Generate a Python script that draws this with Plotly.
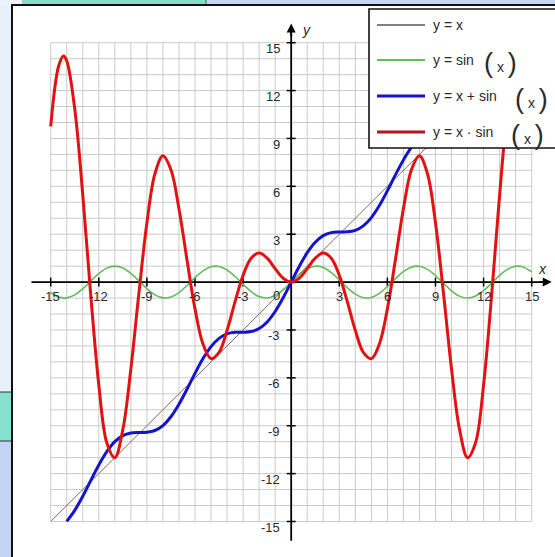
import plotly.graph_objects as go

# ---------------- data ----------------
X = [-15, -14.5, -14.2, -14, -13.5, -13, -12.5, -12, -11.5, -11, -10.5, -10, -9.5, -9,
     -8.5, -8, -7.5, -7, -6.5, -6, -5.5, -5, -4.5, -4, -3.5, -3, -2.5, -2, -1.5, -1, -0.5,
     0, 0.5, 1, 1.5, 2, 2.5, 3, 3.5, 4, 4.5, 5, 5.5, 6, 6.5, 7, 7.5, 8, 8.5, 9, 9.5,
     10, 10.5, 11, 11.5, 12, 12.5, 13, 13.5, 14, 14.2, 14.5, 15]

SIN_Y = [-0.650, -0.935, -0.998, -0.991, -0.804, -0.420, 0.066, 0.537, 0.875, 1.000, 0.880, 0.544, 0.075, -0.412,
         -0.798, -0.989, -0.938, -0.657, -0.215, 0.279, 0.706, 0.959, 0.978, 0.757, 0.351, -0.141, -0.598, -0.909, -0.997, -0.841, -0.479,
         0.0, 0.479, 0.841, 0.997, 0.909, 0.598, 0.141, -0.351, -0.757, -0.978, -0.959, -0.706, -0.279, 0.215, 0.657, 0.938, 0.989, 0.798, 0.412, -0.075,
         -0.544, -0.880, -1.000, -0.875, -0.537, -0.066, 0.420, 0.804, 0.991, 0.998, 0.935, 0.650]

X_PLUS_SIN_Y = [-15.650, -15.435, -15.198, -14.991, -14.304, -13.420, -12.434, -11.463, -10.625, -10.000, -9.620, -9.456, -9.425, -9.412,
                -9.299, -8.989, -8.438, -7.657, -6.715, -5.721, -4.794, -4.041, -3.523, -3.243, -3.149, -3.141, -3.099, -2.909, -2.497, -1.841, -0.979,
                0.0, 0.979, 1.841, 2.497, 2.909, 3.099, 3.141, 3.149, 3.243, 3.523, 4.041, 4.794, 5.721, 6.715, 7.657, 8.438, 8.989, 9.299, 9.412, 9.425,
                9.456, 9.620, 10.000, 10.625, 11.463, 12.434, 13.420, 14.304, 14.991, 15.198, 15.435, 15.650]

X_TIMES_SIN_Y = [9.755, 13.556, 14.173, 13.868, 10.851, 5.463, -0.829, -6.439, -10.068, -11.000, -9.237, -5.440, -0.714, 3.709,
                 6.787, 7.915, 7.035, 4.599, 1.398, -1.676, -3.880, -4.795, -4.399, -3.027, -1.228, 0.423, 1.496, 1.819, 1.496, 0.841, 0.240,
                 0.0, 0.240, 0.841, 1.496, 1.819, 1.496, 0.423, -1.228, -3.027, -4.399, -4.795, -3.880, -1.676, 1.398, 4.599, 7.035, 7.915, 6.787, 3.709, -0.714,
                 -5.440, -9.237, -11.000, -10.068, -6.439, -0.829, 5.463, 10.851, 13.868, 14.173, 13.556, 9.755]

IDENTITY_X = [-15, 15]
IDENTITY_Y = [-15, 15]

X_TICKS = [-15, -12, -9, -6, -3, 3, 6, 9, 12, 15]
Y_TICKS = [15, 12, 9, 6, 3, -3, -6, -9, -12, -15]
GRID = list(range(-15, 16))
LIMIT = 15

LEGEND_LABELS = ["y = x", "y = sin", "y = x + sin", "y = x \u00b7 sin"]

# ---------------- layout geometry ----------------
W, H = 555, 557
XR = [-18.162, 16.454]
YR = [-17.225, 17.675]


def pxx(p):
    return p / W


def pxy(p):
    return 1 - p / H


fig = go.Figure()

common = dict(mode="lines", hoverinfo="skip", showlegend=False)
fig.add_trace(go.Scatter(x=IDENTITY_X, y=IDENTITY_Y, line=dict(color="#7b6a60", width=1), **common))
fig.add_trace(go.Scatter(x=X, y=SIN_Y, line=dict(color="#62bd58", width=1.6, shape="spline"), **common))
bx = [x for x, y in zip(X, X_PLUS_SIN_Y) if abs(y) <= LIMIT + 0.01]
by = [y for y in X_PLUS_SIN_Y if abs(y) <= LIMIT + 0.01]
fig.add_trace(go.Scatter(x=bx, y=by, line=dict(color="#1414cc", width=3, shape="spline"), **common))
fig.add_trace(go.Scatter(x=X, y=X_TIMES_SIN_Y, line=dict(color="#e01212", width=3, shape="spline"), **common))

shapes = []
# background decoration outside the white panel
deco = [
    (0, 0, 22, 5, "#eef3fb"),
    (22, 0, 206, 5, "#86dcc8"),
    (206, 0, 555, 5, "#c9d3f3"),
    (0, 5, 12, 392, "#eaf0fa"),
    (0, 392, 12, 441, "#86e0cc"),
    (0, 441, 12, 557, "#c3d3f3"),
]
for x0, y0, x1, y1, c in deco:
    shapes.append(dict(type="rect", xref="paper", yref="paper", x0=pxx(x0), x1=pxx(x1),
                       y0=pxy(y1), y1=pxy(y0), fillcolor=c, line=dict(width=0), layer="below"))
for y in (392, 441):
    shapes.append(dict(type="line", xref="paper", yref="paper", x0=pxx(0), x1=pxx(12),
                       y0=pxy(y), y1=pxy(y), line=dict(color="#333333", width=1), layer="below"))
shapes.append(dict(type="line", xref="paper", yref="paper", x0=pxx(206), x1=pxx(206),
                   y0=pxy(0), y1=pxy(5), line=dict(color="#555555", width=1), layer="below"))
# panel border
shapes.append(dict(type="line", xref="paper", yref="paper", x0=pxx(11), x1=pxx(556),
                   y0=pxy(5), y1=pxy(5), line=dict(color="#111111", width=2), layer="below"))
shapes.append(dict(type="line", xref="paper", yref="paper", x0=pxx(12), x1=pxx(12),
                   y0=pxy(4), y1=pxy(558), line=dict(color="#111111", width=2), layer="below"))

# grid
for g in GRID:
    shapes.append(dict(type="line", xref="x", yref="y", x0=g, x1=g, y0=-LIMIT, y1=LIMIT,
                       line=dict(color="#cacaca", width=1), layer="below"))
    shapes.append(dict(type="line", xref="x", yref="y", x0=-LIMIT, x1=LIMIT, y0=g, y1=g,
                       line=dict(color="#cacaca", width=1), layer="below"))
# axes
shapes.append(dict(type="line", xref="x", yref="y", x0=-16.2, x1=16.0, y0=0, y1=0,
                   line=dict(color="#000000", width=1.8), layer="below"))
shapes.append(dict(type="line", xref="x", yref="y", x0=0, x1=0, y0=-16.2, y1=15.9,
                   line=dict(color="#000000", width=1.8), layer="below"))
for t in X_TICKS:
    shapes.append(dict(type="line", xref="x", yref="y", x0=t, x1=t, y0=-0.28, y1=0.28,
                       line=dict(color="#000000", width=1.5), layer="below"))
for t in Y_TICKS:
    shapes.append(dict(type="line", xref="x", yref="y", x0=-0.28, x1=0.28, y0=t, y1=t,
                       line=dict(color="#000000", width=1.5), layer="below"))

# legend box
shapes.append(dict(type="rect", xref="paper", yref="paper", x0=pxx(369), x1=pxx(560),
                   y0=pxy(148), y1=pxy(9), fillcolor="white", line=dict(color="#111111", width=1.6),
                   layer="above"))
LEG_Y = [25, 60, 96, 132]
LEG_COLORS = ["#5f5048", "#62bd58", "#1414cc", "#b5121e"]
LEG_WIDTHS = [1.4, 1.8, 3, 3]
for yy, c, w in zip(LEG_Y, LEG_COLORS, LEG_WIDTHS):
    shapes.append(dict(type="line", xref="paper", yref="paper", x0=pxx(377), x1=pxx(425),
                       y0=pxy(yy), y1=pxy(yy), line=dict(color=c, width=w), layer="above"))

annotations = []
TXT = dict(family="Liberation Sans, Arial, sans-serif", size=13, color="#2a2a2a")
LEG_TXT = dict(family="Liberation Sans, Arial, sans-serif", size=14, color="#2a2a2a")
for t in X_TICKS:
    annotations.append(dict(x=t, y=0, xref="x", yref="y", text=str(t), showarrow=False,
                            xanchor="center", yanchor="middle", yshift=-14, font=TXT))
annotations.append(dict(x=0, y=0, xref="x", yref="y", text="0", showarrow=False,
                        xanchor="right", yanchor="middle", xshift=-9, yshift=-13, font=TXT))
for t in Y_TICKS:
    annotations.append(dict(x=0, y=t, xref="x", yref="y", text=str(t), showarrow=False,
                            xanchor="right", yanchor="middle", xshift=-9, yshift=-6, font=TXT))
# axis names
annotations.append(dict(x=0.95, y=15.8, xref="x", yref="y", text="<i>y</i>", showarrow=False,
                        xanchor="center", yanchor="middle", font=dict(TXT, size=14)))
annotations.append(dict(x=15.7, y=0.8, xref="x", yref="y", text="<i>x</i>", showarrow=False,
                        xanchor="center", yanchor="middle", font=dict(TXT, size=14)))
# arrow heads
annotations.append(dict(x=16.25, y=0, xref="x", yref="y", ax=-14, ay=0, text="", showarrow=True,
                        arrowhead=2, arrowsize=1, arrowwidth=1.8, arrowcolor="#000000"))
annotations.append(dict(x=0, y=16.2, xref="x", yref="y", ax=0, ay=14, text="", showarrow=True,
                        arrowhead=2, arrowsize=1, arrowwidth=1.8, arrowcolor="#000000"))

# legend texts
for yy, lab in zip(LEG_Y, LEGEND_LABELS):
    annotations.append(dict(x=pxx(431), y=pxy(yy), xref="paper", yref="paper", text=lab,
                            showarrow=False, xanchor="left", yanchor="middle", font=LEG_TXT))
PAREN_X = [None, 482, 513, 509]
for yy, px in zip(LEG_Y, PAREN_X):
    if px is None:
        continue
    annotations.append(dict(x=pxx(px), y=pxy(yy + 3), xref="paper", yref="paper",
                            text="(<span style='font-size:14px'> x </span>)",
                            showarrow=False, xanchor="left", yanchor="middle",
                            font=dict(family="Liberation Sans, Arial, sans-serif", size=27, color="#2a2a2a")))

fig.update_layout(
    width=W, height=H, autosize=False,
    margin=dict(l=0, r=0, t=0, b=0, pad=0),
    paper_bgcolor="white", plot_bgcolor="rgba(0,0,0,0)",
    xaxis=dict(range=XR, visible=False, fixedrange=True),
    yaxis=dict(range=YR, visible=False, fixedrange=True),
    shapes=shapes, annotations=annotations,
    hovermode=False, showlegend=False,
)

fig.write_html(
    "out.html",
    config={"displayModeBar": False},
    post_script="document.body.style.margin='0';document.body.style.overflow='hidden';",
)
